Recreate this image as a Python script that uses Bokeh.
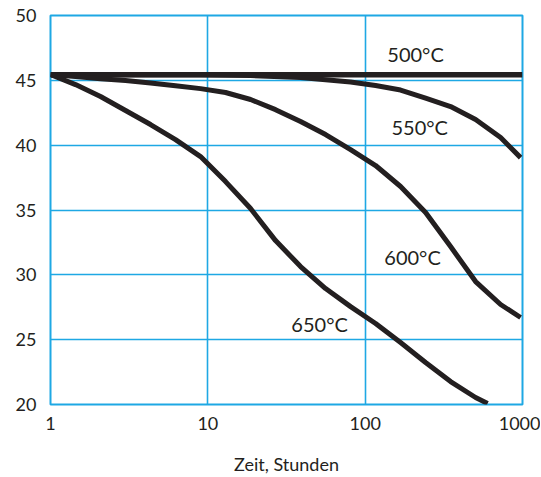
from bokeh.plotting import figure
from bokeh.models import FixedTicker, Range1d
from bokeh.core.properties import value
from bokeh.embed import file_html
from bokeh.resources import INLINE

# ---- data ----
x_ticks = [1, 10, 100, 1000]
x_tick_labels = ["1", "10", "100", "1000"]
y_ticks = [20, 25, 30, 35, 40, 45, 50]

h_500 = [1, 1000]
v_500 = [45.44, 45.44]

h_550 = [1, 8.987, 18.69, 38.85, 80.77, 116.5, 167.9, 242.1, 349.1, 503.4, 725.8, 972.6]
v_550 = [45.44, 45.44, 45.37, 45.21, 44.87, 44.60, 44.25, 43.63, 42.98, 41.98, 40.59, 39.04]

h_600 = [1, 1.442, 2.079, 2.998, 4.323, 6.233, 8.987, 12.96, 18.69, 26.94, 38.85,
         56.02, 80.77, 116.5, 167.9, 242.1, 349.1, 503.4, 725.8, 972.6]
v_600 = [45.44, 45.29, 45.13, 44.98, 44.79, 44.59, 44.36, 44.06, 43.52, 42.74, 41.82,
         40.82, 39.66, 38.43, 36.81, 34.80, 32.18, 29.48, 27.71, 26.71]

h_650 = [1, 1.442, 2.079, 2.998, 4.323, 6.233, 8.987, 12.96, 18.69, 26.94, 38.85,
         56.02, 80.77, 116.5, 167.9, 242.1, 349.1, 503.4, 600.0]
v_650 = [45.44, 44.67, 43.75, 42.67, 41.59, 40.43, 39.12, 37.19, 35.11, 32.64, 30.64,
         28.94, 27.55, 26.25, 24.78, 23.24, 21.77, 20.54, 20.08]

label_text = ["500°C", "550°C", "600°C", "650°C"]
label_h = [209, 222, 200, 51.3]
label_v = [47.06, 41.43, 31.41, 26.17]

x_title = "Zeit, Stunden"

# ---- styling ----
BLUE = "#1ea8e4"
INK = "#231f20"
FONT = "Lato"

p = figure(width=540, height=477, x_axis_type="log",
           x_range=Range1d(1, 1000), y_range=Range1d(20, 50),
           output_backend="svg", toolbar_location=None,
           min_border_left=50, min_border_right=18,
           min_border_top=15, min_border_bottom=73)

p.background_fill_color = "white"
p.border_fill_color = "white"
p.outline_line_color = BLUE
p.outline_line_width = 2
p.outline_line_alpha = 1.0

p.xaxis.ticker = FixedTicker(ticks=x_ticks, minor_ticks=[])
p.xaxis.major_label_overrides = {t: s for t, s in zip(x_ticks, x_tick_labels)}
p.yaxis.ticker = FixedTicker(ticks=y_ticks, minor_ticks=[])

for ax in (p.xaxis[0], p.yaxis[0]):
    ax.axis_line_color = None
    ax.major_tick_line_color = None
    ax.minor_tick_line_color = None
    ax.major_tick_in = 0
    ax.major_tick_out = 0
    ax.minor_tick_in = 0
    ax.minor_tick_out = 0
    ax.major_label_text_font = FONT
    ax.major_label_text_font_size = "18px"
    ax.major_label_text_color = INK

p.xaxis.major_label_standoff = 12
p.yaxis.major_label_standoff = 14
p.yaxis.major_label_text_baseline = "top"

p.xaxis.axis_label = x_title
p.xaxis.axis_label_text_font = FONT
p.xaxis.axis_label_text_font_size = "18px"
p.xaxis.axis_label_text_font_style = "normal"
p.xaxis.axis_label_text_color = INK
p.xaxis.axis_label_standoff = 20

p.xgrid.grid_line_color = BLUE
p.ygrid.grid_line_color = BLUE
p.xgrid.grid_line_width = 1.6
p.ygrid.grid_line_width = 1.6
p.xgrid.grid_line_alpha = 1.0
p.ygrid.grid_line_alpha = 1.0

p.line(h_500, v_500, line_width=5.5, color=INK)
for hs, vs in ((h_550, v_550), (h_600, v_600), (h_650, v_650)):
    p.line(hs, vs, line_width=5, color=INK, line_join="round")

p.text(x=label_h, y=label_v, text=label_text, text_font=value(FONT),
       text_font_size="20px", text_align="center", text_baseline="middle",
       text_color=INK)

open("out.html", "w").write(file_html(p, INLINE))
